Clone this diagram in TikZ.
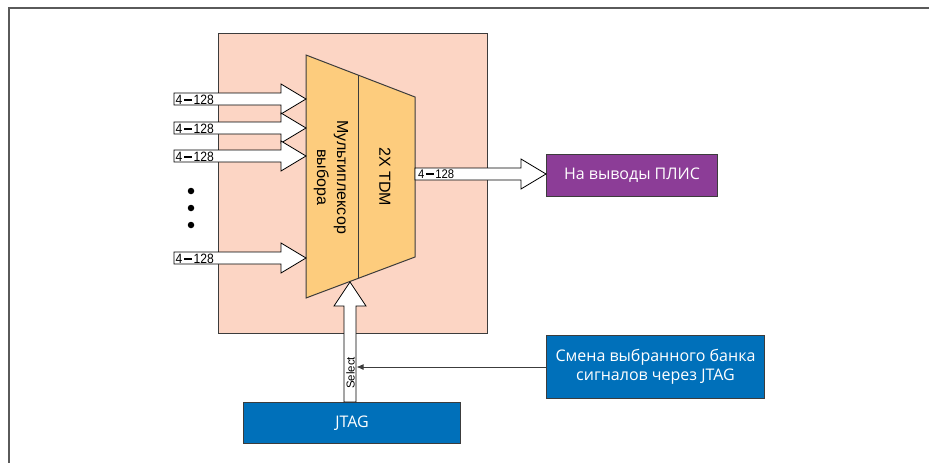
\documentclass[tikz,border=0pt]{standalone}
\usepackage{fontspec}
\setmainfont{Liberation Sans}
\newfontfamily\boxfont{Open Sans}
\usetikzlibrary{arrows.meta}

\definecolor{chippink}{RGB}{252,213,196}
\definecolor{muxorange}{RGB}{253,204,125}
\definecolor{jtagblue}{RGB}{0,112,186}
\definecolor{pinpurple}{RGB}{140,61,151}
\definecolor{framegray}{RGB}{90,90,90}
\definecolor{edgegray}{RGB}{60,60,60}

% wide hollow arrow pointing right: start x, tip x, centre y
\newcommand{\fatright}[3]{%
  \draw[fatarrow] (#1,#3-6) -- (#2-25,#3-6) -- (#2-25,#3-15) -- (#2,#3)
    -- (#2-25,#3+15) -- (#2-25,#3+6) -- (#1,#3+6) -- cycle;}
\newcommand{\buswidth}{\scalebox{0.9}[1]{4\,\rule[3.6pt]{8pt}{1.8pt}\,128}}

\begin{document}
\begin{tikzpicture}[x=1pt,y=-1pt,
  fatarrow/.style={draw=black,fill=white,line width=0.8pt,line join=miter},
  blockbox/.style={draw=edgegray,line width=1pt,inner sep=0pt,anchor=north west,
    text=white,font=\boxfont\fontsize{16}{19.5}\selectfont,align=center},
  buslabel/.style={font=\fontsize{13.5}{13.5}\selectfont,inner sep=0pt,anchor=west},
  dot/.style={circle,fill=black,inner sep=0pt,minimum size=6.5pt}]
\useasboundingbox (0,0) rectangle (929,463);

% outer frame
\draw[framegray,line width=1.5pt] (9,463) -- (9,8) -- (929,8);

% chip area
\node[draw=edgegray,fill=chippink,line width=1pt,minimum width=269pt,minimum height=300pt,
  anchor=north west,inner sep=0pt] (chip) at (218,33) {};

% multiplexer + TDM trapezoid
\coordinate (mtl) at (306,55);
\coordinate (mbl) at (306,298);
\coordinate (mtr) at (415,97);
\coordinate (mbr) at (415,257);
\draw[edgegray,fill=muxorange,line width=1pt] (mtl) -- (mtr) -- (mbr) -- (mbl) -- cycle;
\draw[edgegray,line width=1pt] (358,75) -- (358,278);
\node[rotate=-90,align=center,font=\fontsize{16}{20}\selectfont] (mux) at (331,177)
  {Мультиплексор\\выбора};
\node[rotate=-90,font=\fontsize{16}{20}\selectfont] (tdm) at (385,177) {2X TDM};

% input buses
\fatright{174}{306}{99}
\fatright{174}{306}{128}
\fatright{174}{306}{156}
\fatright{174}{306}{258}
\node[buslabel] (in1) at (175.5,99.5) {\buswidth};
\node[buslabel] (in2) at (175.5,128.5) {\buswidth};
\node[buslabel] (in3) at (175.5,156.5) {\buswidth};
\node[buslabel] (in4) at (175.5,258.5) {\buswidth};

\node[dot] (d1) at (191,191) {};
\node[dot] (d2) at (191,208) {};
\node[dot] (d3) at (191,225) {};

% output bus
\node[blockbox,fill=pinpurple,minimum width=171pt,minimum height=42pt] (pins) at (546,154)
  {На выводы ПЛИС};
\fatright{415}{546}{174}
\node[buslabel,font=\fontsize{12.5}{12.5}\selectfont] (out) at (418,174.5) {\buswidth};

% JTAG control
\node[blockbox,fill=jtagblue,minimum width=217pt,minimum height=41pt] (jtag) at (243,402)
  {JTAG};
\node[blockbox,fill=jtagblue,minimum width=218pt,minimum height=63pt] (bank) at (546,335)
  {Смена выбранного банка\\сигналов через JTAG};

\draw[fatarrow] (344,402) -- (344,306) -- (334,306) -- (350,282) -- (366,306)
  -- (356,306) -- (356,402) -- cycle;
\node[rotate=90,font=\fontsize{11.5}{12}\selectfont,inner sep=0pt] (sel) at (350.5,373) {Select};

\coordinate (selin) at (356.5,367);
\draw[edgegray,line width=1pt,-{Latex[length=7pt,width=6pt]}] (bank.west |- selin) -- (selin);
\end{tikzpicture}
\end{document}
